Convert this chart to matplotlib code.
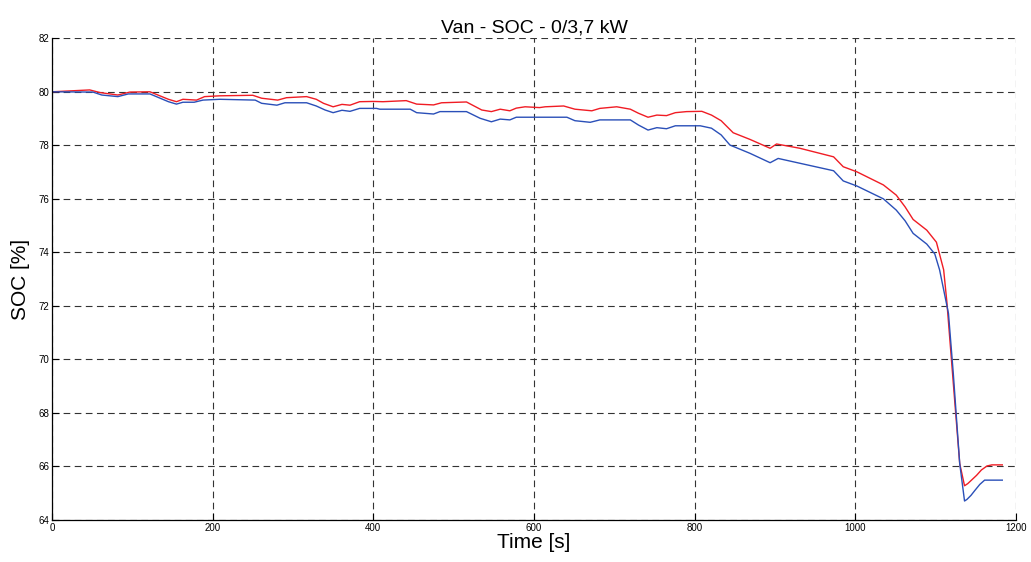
import numpy as np
import matplotlib
matplotlib.use("Agg")
import matplotlib.pyplot as plt

# SOC traces read along the drive cycle (time in s, SOC in %)
t_red = [0, 47, 60, 82, 97, 122, 145, 155, 163, 180, 190, 209, 250, 261, 281, 292,
         317, 329, 338, 350, 361, 371, 383, 400, 412, 441, 454, 475, 485, 516, 535,
         547, 558, 570, 578, 589, 607, 614, 637, 651, 672, 682, 703, 720, 730, 742,
         753, 765, 776, 790, 809, 821, 833, 848, 869, 894, 902, 931, 973, 985, 1002,
         1035, 1051, 1062, 1072, 1089, 1101, 1110, 1114, 1124, 1130, 1136, 1140,
         1145, 1151, 1157, 1164, 1170, 1183]
soc_red = [80.0, 80.07, 79.97, 79.88, 79.99, 80.0, 79.72, 79.63, 79.72, 79.69, 79.82,
           79.85, 79.87, 79.76, 79.69, 79.78, 79.82, 79.72, 79.57, 79.44, 79.53, 79.50,
           79.63, 79.64, 79.63, 79.67, 79.54, 79.51, 79.59, 79.62, 79.32, 79.26, 79.35,
           79.29, 79.39, 79.44, 79.41, 79.44, 79.47, 79.35, 79.29, 79.38, 79.44, 79.35,
           79.20, 79.05, 79.13, 79.11, 79.22, 79.26, 79.27, 79.13, 78.92, 78.47, 78.22,
           77.89, 78.05, 77.89, 77.57, 77.20, 77.01, 76.52, 76.14, 75.70, 75.23, 74.83,
           74.38, 73.35, 72.15, 68.36, 66.11, 65.28, 65.36, 65.50, 65.67, 65.87, 66.02,
           66.06, 66.06]

t_blue = [0, 51, 62, 82, 95, 122, 145, 155, 163, 177, 188, 209, 253, 261, 280, 290,
          317, 329, 340, 350, 361, 371, 383, 404, 408, 446, 454, 475, 483, 516, 533,
          547, 558, 570, 578, 607, 641, 651, 670, 682, 720, 730, 742, 753, 765, 776,
          807, 821, 833, 844, 869, 894, 904, 931, 973, 985, 1002, 1035, 1051, 1062,
          1072, 1089, 1099, 1105, 1116, 1122, 1130, 1136, 1139, 1144, 1149, 1155, 1161,
          1183]
soc_blue = [80.0, 79.99, 79.88, 79.82, 79.92, 79.92, 79.63, 79.54, 79.61, 79.61, 79.69,
            79.72, 79.69, 79.57, 79.50, 79.59, 79.59, 79.47, 79.32, 79.22, 79.31, 79.27,
            79.38, 79.38, 79.35, 79.35, 79.22, 79.17, 79.26, 79.26, 79.01, 78.88, 78.98,
            78.95, 79.05, 79.05, 79.05, 78.92, 78.86, 78.95, 78.95, 78.76, 78.57, 78.66,
            78.62, 78.73, 78.73, 78.64, 78.39, 78.01, 77.70, 77.35, 77.51, 77.33, 77.05,
            76.67, 76.48, 76.00, 75.58, 75.18, 74.71, 74.31, 73.94, 73.34, 71.72, 69.48,
            66.11, 64.71, 64.77, 64.92, 65.11, 65.33, 65.49, 65.49]

xticks = np.arange(0, 1201, 200)
yticks = np.arange(64, 83, 2)

plt.rcParams['font.family'] = ['Liberation Sans', 'DejaVu Sans']

fig = plt.figure(figsize=(10.31, 5.62), dpi=100)
ax = fig.add_axes([0.0504, 0.0747, 0.935, 0.8572])

ax.plot(t_red, soc_red, color='#f01c24', lw=1.0)
ax.plot(t_blue, soc_blue, color='#2a4fb8', lw=1.0)

ax.set_xlim(0, 1200)
ax.set_ylim(64, 82)
ax.set_xticks(xticks)
ax.set_yticks(yticks)
ax.tick_params(direction='in', labelsize=7, length=5, width=0.8, pad=2)

# MATLAB-like box off: only left and bottom axis lines
ax.spines['top'].set_visible(False)
ax.spines['right'].set_visible(False)
ax.spines['left'].set_linewidth(0.9)
ax.spines['bottom'].set_linewidth(0.9)

ax.grid(True, color='#333333', linestyle=(0, (6, 4)), linewidth=0.8)
ax.set_axisbelow(True)

ax.set_title('Van - SOC - 0/3,7 kW', fontsize=14, pad=4)
ax.set_xlabel('Time [s]', fontsize=15, labelpad=0)
ax.set_ylabel('SOC [%]', fontsize=15, labelpad=6)

fig.savefig('out.png', dpi=100)
